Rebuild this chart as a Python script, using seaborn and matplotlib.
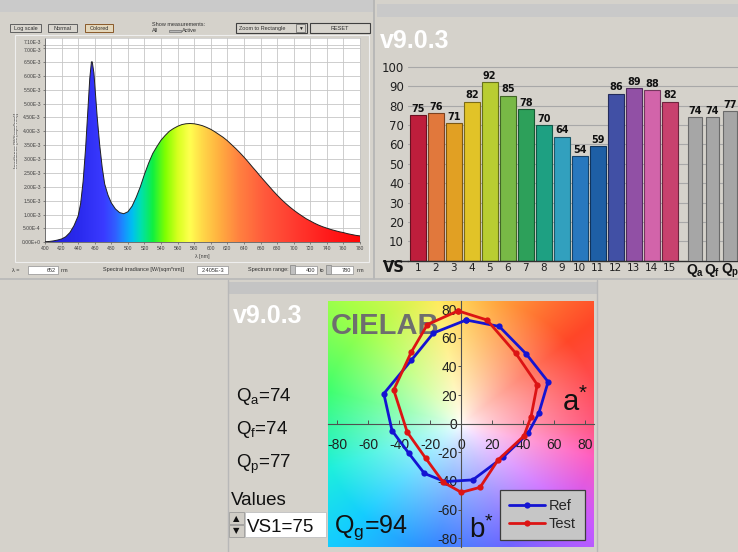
import numpy as np
import pandas as pd
import matplotlib
matplotlib.use("Agg")
import matplotlib.pyplot as plt
import seaborn as sns
from matplotlib.patches import Rectangle
from matplotlib.lines import Line2D
from matplotlib.colors import LinearSegmentedColormap

sns.set_theme(style="white")
plt.rcParams["font.family"] = ["Liberation Sans", "DejaVu Sans"]
plt.rcParams["mathtext.fontset"] = "custom"
plt.rcParams["mathtext.rm"] = "Liberation Sans"
plt.rcParams["mathtext.it"] = "Liberation Sans:italic"
plt.rcParams["mathtext.bf"] = "Liberation Sans:bold"
plt.rcParams["mathtext.default"] = "regular"

# ---------------- data ----------------
wavelength_nm = [400, 405, 410, 415, 420, 425, 430, 435, 440, 443, 446, 449, 452, 454,
                 456, 457, 459, 461, 463, 466, 469, 472, 476, 480, 485, 490, 495, 500,
                 505, 510, 515, 520, 525, 530, 535, 540, 545, 550, 555, 560, 565, 570,
                 575, 580, 585, 590, 595, 600, 605, 610, 615, 620, 625, 630, 635, 640,
                 645, 650, 655, 660, 665, 670, 675, 680, 685, 690, 695, 700, 705, 710,
                 715, 720, 725, 730, 735, 740, 745, 750, 755, 760, 765, 770, 775, 780]
irradiance_e3 = [0.02, 0.03, 0.05, 0.08, 0.12, 0.20, 0.35, 0.60, 0.95, 1.40, 2.20, 3.40, 4.90, 5.90,
                 6.50, 6.50, 6.10, 5.30, 4.50, 3.50, 2.70, 2.10, 1.70, 1.42, 1.20, 1.07, 1.03, 1.10,
                 1.30, 1.62, 2.00, 2.45, 2.85, 3.20, 3.45, 3.68, 3.85, 4.00, 4.10, 4.18, 4.24, 4.27,
                 4.28, 4.27, 4.24, 4.20, 4.14, 4.07, 3.98, 3.88, 3.78, 3.66, 3.52, 3.38, 3.23, 3.07,
                 2.90, 2.72, 2.55, 2.37, 2.20, 2.03, 1.86, 1.70, 1.55, 1.41, 1.28, 1.16, 1.05, 0.95,
                 0.85, 0.77, 0.69, 0.62, 0.56, 0.51, 0.46, 0.42, 0.38, 0.35, 0.31, 0.28, 0.25, 0.23]
spec_xticks = [400, 420, 440, 460, 480, 500, 520, 540, 560, 580, 600, 620, 640, 660, 680,
               700, 720, 740, 760, 780]
spec_yticks_e3 = [0, 0.5, 1.0, 1.5, 2.0, 2.5, 3.0, 3.5, 4.0, 4.5, 5.0, 5.5, 6.0, 6.5, 7.0, 7.1]
spec_ytick_labels = ["0.00E+0", "5.00E-4", "1.00E-3", "1.50E-3", "2.00E-3", "2.50E-3",
                     "3.00E-3", "3.50E-3", "4.00E-3", "4.50E-3", "5.00E-3", "5.50E-3",
                     "6.00E-3", "6.50E-3", "7.00E-3", "7.10E-3"]

vs_labels = ["1", "2", "3", "4", "5", "6", "7", "8", "9", "10", "11", "12", "13", "14", "15"]
vs_values = [75, 76, 71, 82, 92, 85, 78, 70, 64, 54, 59, 86, 89, 88, 82]
vs_colors = ["#be1e3c", "#e1783c", "#e1a023", "#e1c328", "#b9cd32", "#78b946", "#2da05a",
             "#1ea082", "#32a0be", "#2878be", "#1e5fa5", "#4150a5", "#9150a5", "#d264aa", "#c8416e"]
q_labels = [r"$\mathbf{Q_a}$", r"$\mathbf{Q_f}$", r"$\mathbf{Q_p}$"]
q_values = [74, 74, 77]
bar_yticks = [10, 20, 30, 40, 50, 60, 70, 80, 90, 100]

ref_a = [3.2, 24.5, 42.0, 56.0, 50.0, 43.0, 27.0, 7.4, -10.6, -23.8, -34.0, -44.7, -50.0, -32.3, -18.0]
ref_b = [72.5, 68.0, 48.6, 29.3, 7.3, -6.8, -23.4, -39.3, -40.5, -34.8, -20.5, -4.8, 21.0, 44.3, 63.4]
test_a = [-2.1, 16.6, 35.1, 49.0, 45.0, 40.4, 23.8, 12.1, 0.0, -11.7, -23.0, -34.9, -43.6, -32.3, -21.9]
test_b = [78.9, 72.5, 49.3, 27.3, 5.0, -8.6, -25.2, -44.5, -48.0, -40.9, -24.1, -5.9, 23.6, 50.0, 69.3]
lab_ticks = [-80, -60, -40, -20, 0, 20, 40, 60, 80]
Q_a, Q_f, Q_p, Q_g, VS1 = 74, 74, 77, 94, 75

# ---------------- helpers ----------------
W, H = 738, 552
BG = "#d5d2cb"
fig = plt.figure(figsize=(W / 100, H / 100), dpi=100, facecolor=BG)


def px_axes(x0, y0, x1, y1):
    return fig.add_axes([x0 / W, 1 - y1 / H, (x1 - x0) / W, (y1 - y0) / H])


def frect(x0, y0, x1, y1, **kw):
    fig.patches.append(Rectangle((x0 / W, 1 - y1 / H), (x1 - x0) / W, (y1 - y0) / H,
                                 transform=fig.transFigure, **kw))


def fline(xs, ys, **kw):
    fig.lines.append(Line2D([x / W for x in xs], [1 - y / H for y in ys],
                            transform=fig.transFigure, **kw))


def ftext(x, y, s, **kw):
    return fig.text(x / W, 1 - y / H, s, **kw)


# ---------------- panel backgrounds ----------------
frect(0, 0, 373, 12, fc="#cacaca", ec="none")
frect(377, 4, 738, 17, fc="#c9c9c9", ec="none")
frect(228, 282, 597, 294, fc="#c4c4c4", ec="none")
fline([374, 374], [0, 279], color="#b3b3b3", lw=1.2)
fline([0, 738], [279, 279], color="#b8b8b8", lw=1.2)
fline([228, 228], [280, 552], color="#b8b8b8", lw=1.0)
fline([597, 597], [280, 552], color="#b8b8b8", lw=1.0)
frect(15, 35, 369, 262, fc="none", ec="#eeeeee", lw=0.8)

# top-left controls
small = dict(fontsize=4, color="#303030")
for (x0, x1, lab, fc, ec) in [(10, 41, "Log scale", "#d8d5ce", "#606060"),
                              (48, 77, "Normal", "#d8d5ce", "#606060"),
                              (85, 113, "Colored", "#e4d7bb", "#8a5a2a")]:
    frect(x0, 24, x1, 32, fc=fc, ec=ec, lw=0.7)
    ftext((x0 + x1) / 2, 28.3, lab, ha="center", va="center", **small)
ftext(152, 24, "Show measurements:", ha="left", va="center", **small)
ftext(152, 31, "All", ha="left", va="center", **small)
frect(169, 29.5, 181, 32, fc="#b8b8b8", ec="#707070", lw=0.5)
ftext(182, 31, "Active", ha="left", va="center", **small)
frect(236, 23, 307, 33, fc="#d8d5ce", ec="#404040", lw=0.8)
frect(296, 24.5, 305, 31.5, fc="#d8d5ce", ec="#606060", lw=0.5)
ftext(262, 28.3, "Zoom to Rectangle", ha="center", va="center", **small)
ftext(300.5, 28.3, "\u25bc", ha="center", va="center", fontsize=3.5, color="#202020")
frect(310, 23, 370, 33, fc="#d8d5ce", ec="#404040", lw=0.8)
ftext(340, 28.3, "RESET", ha="center", va="center", **small)

# bottom row of top-left panel
ftext(12, 270, "\u03bb =", ha="left", va="center", **small)
frect(28, 266, 58, 274, fc="white", ec="#909090", lw=0.5)
ftext(56, 270, "652", ha="right", va="center", **small)
ftext(61, 270, "nm", ha="left", va="center", **small)
ftext(103, 270, "Spectral irradiance [W/(sqm*nm)]", ha="left", va="center", **small)
frect(197, 266, 228, 274, fc="white", ec="#909090", lw=0.5)
ftext(212.5, 270, "2.405E-3", ha="center", va="center", **small)
ftext(248, 270, "Spectrum range:", ha="left", va="center", **small)
frect(290, 265.5, 295, 274.5, fc="#c0c0c0", ec="#707070", lw=0.4)
frect(295, 266, 317, 274, fc="white", ec="#909090", lw=0.5)
ftext(315, 270, "400", ha="right", va="center", **small)
ftext(320, 270, "to", ha="left", va="center", **small)
frect(326, 265.5, 331, 274.5, fc="#c0c0c0", ec="#707070", lw=0.4)
frect(331, 266, 353, 274, fc="white", ec="#909090", lw=0.5)
ftext(351, 270, "780", ha="right", va="center", **small)
ftext(357, 270, "nm", ha="left", va="center", **small)

# ---------------- spectrum ----------------
ax1 = px_axes(45, 38, 360, 242.3)
ax1.set_facecolor("white")
irr = np.array(irradiance_e3) * 1e-3
YMAX = 7.36e-3
poly = ax1.fill_between(wavelength_nm, irr, 0, color="none", lw=0)
spec_nm = [400, 440, 470, 485, 495, 505, 515, 530, 545, 560, 575, 590, 610, 635, 665, 700, 740, 780]
spec_hex = ["#2222d4", "#2a2aee", "#3a3aff", "#3060ff", "#1890ff", "#00c0f0", "#00e0b0",
            "#10f040", "#80ff00", "#d8ff20", "#ffff50", "#ffd848", "#ffb040", "#ff8040",
            "#ff5a3c", "#ff3c30", "#ff1c1c", "#ff0808"]
spec_cmap = LinearSegmentedColormap.from_list(
    "spec", [((n - 400) / 380, c) for n, c in zip(spec_nm, spec_hex)])
grad = np.linspace(400, 780, 760).reshape(1, -1)
img = ax1.imshow(grad, extent=[400, 780, 0, YMAX], aspect="auto", cmap=spec_cmap,
                 vmin=400, vmax=780, origin="lower", zorder=2, interpolation="bilinear")
img.set_clip_path(poly.get_paths()[0], transform=ax1.transData)
sns.lineplot(x=wavelength_nm, y=irr, ax=ax1, color="#202020", lw=0.7, sort=False,
             estimator=None, zorder=3)
ax1.set_xlim(400, 780)
ax1.set_ylim(0, YMAX)
ax1.set_xticks(spec_xticks)
ax1.set_xticklabels([str(v) for v in spec_xticks])
ax1.set_yticks([v * 1e-3 for v in spec_yticks_e3])
ax1.set_yticklabels(spec_ytick_labels)
ytl = ax1.get_yticklabels()
ytl[-1].set_va("bottom")
ytl[-2].set_va("top")
ax1.grid(True, color="#c6c6c6", lw=0.6)
ax1.set_axisbelow(True)
ax1.tick_params(axis="both", labelsize=3.6, colors="#404040", length=1.5, width=0.4,
                pad=1.5, left=True, bottom=True)
for s in ["left", "bottom"]:
    ax1.spines[s].set_color("#606060")
    ax1.spines[s].set_linewidth(0.6)
for s in ["top", "right"]:
    ax1.spines[s].set_color("#c0c0c0")
    ax1.spines[s].set_linewidth(0.5)
ax1.set_xlabel("\u03bb [nm]", fontsize=3.8, color="#404040", labelpad=1.5)
ax1.set_ylabel("Irradiance [W/(sqm*nm)]", fontsize=3.6, color="#404040", labelpad=2)

# ---------------- bar chart ----------------
ftext(380, 48, "v9.0.3", fontsize=18, fontweight="bold", color="white", ha="left", va="baseline")

Y0, Y1 = 50, 260.7
YLIM = (Y1 - Y0) / 1.94
ax2 = px_axes(408, Y0, 738, Y1)
ax2.patch.set_alpha(0)
df_vs = pd.DataFrame({"sample": vs_labels, "value": vs_values})
sns.barplot(data=df_vs, x="sample", y="value", hue="sample", palette=vs_colors, legend=False,
            ax=ax2, width=0.9, saturation=1, linewidth=0.8)
for p in ax2.patches:
    fc = np.array(p.get_facecolor()[:3])
    p.set_edgecolor(fc * 0.55)
for c in ax2.containers:
    ax2.bar_label(c, fmt="%d", padding=1, fontsize=7, fontweight="bold", color="#111111",
                  fontfamily="DejaVu Sans")
ax2.set_xlim(-0.54, 17.79)
ax2.set_ylim(0, YLIM)
ax2.set_yticks(bar_yticks)
ax2.set_yticklabels([str(v) for v in bar_yticks], fontfamily="DejaVu Sans")
ax2.yaxis.grid(True, color="#a8a8a8", lw=0.8)
ax2.set_axisbelow(True)
ax2.tick_params(axis="y", labelsize=8.5, colors="#202020", length=0, pad=3)
ax2.tick_params(axis="x", labelsize=7.5, colors="#202020", length=0, pad=2)
for lab in ax2.get_xticklabels():
    lab.set_fontfamily("DejaVu Sans")
ax2.set_xlabel("")
ax2.set_ylabel("")
for s in ["left", "top", "right"]:
    ax2.spines[s].set_visible(False)
ax2.spines["bottom"].set_color("#303030")
ax2.spines["bottom"].set_linewidth(1.0)
fline([383, 408], [Y1, Y1], color="#303030", lw=1.0)
ftext(383, 271.5, "VS", fontsize=10.5, fontweight="bold", color="#151515", ha="left",
      va="baseline", fontfamily="DejaVu Sans")

ax3 = px_axes(686.25, Y0, 738.75, Y1)
ax3.patch.set_alpha(0)
df_q = pd.DataFrame({"metric": q_labels, "value": q_values})
sns.barplot(data=df_q, x="metric", y="value", color="#a6a6a6", ax=ax3, width=0.76,
            saturation=1, linewidth=0.8, edgecolor="#6a6a6a")
for c in ax3.containers:
    ax3.bar_label(c, fmt="%d", padding=1, fontsize=7, fontweight="bold", color="#111111",
                  fontfamily="DejaVu Sans")
ax3.set_xlim(-0.5, 2.5)
ax3.set_ylim(0, YLIM)
ax3.set_yticks([])
ax3.set_xlabel("")
ax3.set_ylabel("")
ax3.tick_params(axis="x", labelsize=10, colors="#151515", length=0, pad=1)
for s in ["left", "top", "right", "bottom"]:
    ax3.spines[s].set_visible(False)
ax3.grid(False)

# ---------------- CIELAB ----------------
ftext(233, 323, "v9.0.3", fontsize=18, fontweight="bold", color="white", ha="left", va="baseline")
LX = (-86, 85.6)
LY = (-86, 86)
ax4 = px_axes(328, 300.7, 594, 546.7)
ga = np.linspace(LX[0], LX[1], 320)
gb = np.linspace(LY[0], LY[1], 320)
A, B = np.meshgrid(ga, gb)
ang = np.degrees(np.arctan2(B, A)) % 360
rad = np.hypot(A, B)
hue_deg = [0, 40, 75, 100, 130, 165, 200, 225, 260, 290, 320, 345, 360]
hue_rgb = [(255, 80, 120), (255, 70, 40), (255, 165, 60), (255, 235, 90), (170, 255, 70),
           (60, 255, 110), (30, 240, 220), (20, 205, 255), (50, 130, 255), (110, 100, 255),
           (200, 90, 255), (255, 90, 190), (255, 80, 120)]
hue_arr = np.array(hue_rgb) / 255.0
col = np.stack([np.interp(ang, hue_deg, hue_arr[:, k]) for k in range(3)], axis=-1)
sat = np.clip(rad / 90.0, 0, 1) ** 0.75
rgb = 1 - sat[..., None] * (1 - col)
ax4.imshow(rgb, extent=[LX[0], LX[1], LY[0], LY[1]], origin="lower", aspect="auto",
           zorder=0, interpolation="bilinear")
ax4.text(-84, 63, "CIELAB", fontsize=21, fontweight="bold", color="#6e6e6e", ha="left",
         va="baseline", zorder=1)
ref_x = np.r_[ref_a, ref_a[0]]
ref_y = np.r_[ref_b, ref_b[0]]
test_x = np.r_[test_a, test_a[0]]
test_y = np.r_[test_b, test_b[0]]
sns.lineplot(x=ref_x, y=ref_y, ax=ax4, sort=False, estimator=None, color="#1414d2", lw=2.0,
             marker="o", markersize=4.5, markeredgewidth=0, label="Ref", zorder=4)
sns.lineplot(x=test_x, y=test_y, ax=ax4, sort=False, estimator=None, color="#dc1414", lw=2.0,
             marker="o", markersize=4.5, markeredgewidth=0, label="Test", zorder=5)
ax4.set_xlim(*LX)
ax4.set_ylim(*LY)
ax4.spines["left"].set_position(("data", 0))
ax4.spines["bottom"].set_position(("data", 0))
for s in ["left", "bottom"]:
    ax4.spines[s].set_color("#505050")
    ax4.spines[s].set_linewidth(0.8)
    ax4.spines[s].set_zorder(2)
for s in ["top", "right"]:
    ax4.spines[s].set_visible(False)
ax4.set_xticks(lab_ticks)
ax4.set_yticks(lab_ticks)
ax4.set_xticklabels([str(v) for v in lab_ticks])
ax4.set_yticklabels([str(v) for v in lab_ticks])
ax4.tick_params(axis="x", direction="in", length=3, width=0.7, colors="#505050",
                labelcolor="#202020", labelsize=10, pad=10, bottom=True)
ax4.tick_params(axis="y", direction="out", length=2.5, width=0.7, colors="#505050",
                labelcolor="#202020", labelsize=10, pad=0.5, left=True)
ax4.set_xlabel("")
ax4.set_ylabel("")
leg = ax4.legend(loc="lower left", bbox_to_anchor=(0.647, 0.027), fontsize=10.5,
                 handlelength=2.5, handletextpad=0.25, borderpad=0.6, labelspacing=0.3,
                 fancybox=False, framealpha=1, borderaxespad=0)
leg.get_frame().set_facecolor("#c6c6c6")
leg.get_frame().set_edgecolor("#3c3c3c")
leg.get_frame().set_linewidth(0.9)
leg.set_zorder(10)
ax4.text(82, 9, "a$^{*}$", fontsize=21, color="#111111", ha="right", va="baseline", zorder=6)
ax4.text(5, -80, "b$^{*}$", fontsize=20, color="#111111", ha="left", va="baseline", zorder=6)
ax4.text(-82, -76, "Q$_{g}$=%d" % Q_g, fontsize=18, color="#111111", ha="left",
         va="baseline", zorder=6)

# left info column
info = dict(fontsize=13.5, color="#111111", ha="left", va="baseline")
ftext(236, 400.7, "Q$_{a}$=%d" % Q_a, **info)
ftext(236, 434, "Q$_{f}$=%d" % Q_f, **info)
ftext(236, 468.3, "Q$_{p}$=%d" % Q_p, **info)
ftext(231, 505, "Values", **info)
frect(245, 512, 326, 537, fc="white", ec="#c0c0c0", lw=0.6)
frect(229, 512, 244, 524, fc="#d0cdc6", ec="#909090", lw=0.5)
frect(229, 525, 244, 537, fc="#d0cdc6", ec="#909090", lw=0.5)
ftext(236.5, 518.5, "\u25b2", fontsize=6, color="#111111", ha="center", va="center",
      fontfamily="DejaVu Sans")
ftext(236.5, 531, "\u25bc", fontsize=6, color="#111111", ha="center", va="center",
      fontfamily="DejaVu Sans")
ftext(247, 532, "VS1=%d" % VS1, **info)

fig.savefig("out.png", dpi=100, facecolor=BG)
